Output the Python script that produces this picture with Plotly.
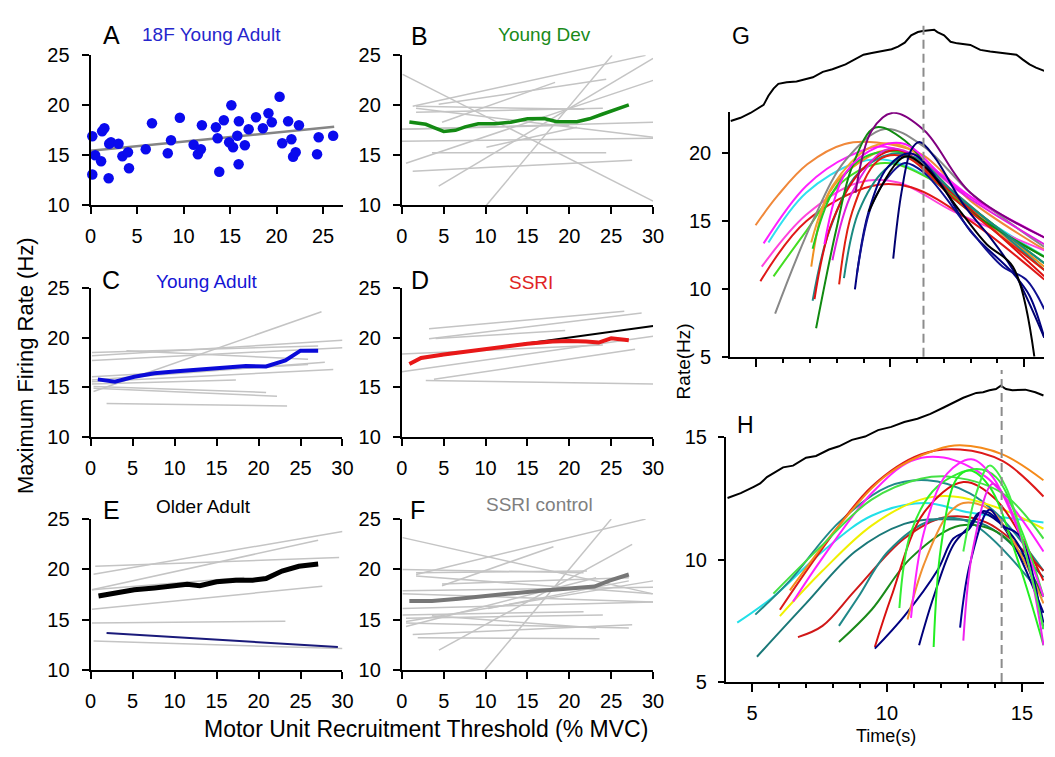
import plotly.graph_objects as go

FONT = "Liberation Sans, Arial, Helvetica, sans-serif"
W, HT = 1055, 757

# ---------------- Panel A: 18F Young Adult (scatter + fit) ----------------
a_thr = [0.18, 0.18, 0.49, 1.13, 1.24, 1.48, 1.94, 2.0, 2.19, 3.0, 3.42, 4.02, 4.13, 5.93, 6.6, 8.3,
         8.65, 9.6, 11.08, 11.54, 11.86, 11.97, 13.48, 13.66, 13.84, 14.33, 14.9, 15.14, 15.32, 15.78,
         15.92, 15.95, 16.59, 17.0, 17.79, 18.53, 19.13, 19.49, 20.33, 20.61, 21.25, 21.6, 21.78, 22.06,
         22.41, 24.36, 24.53, 26.09]
a_rate = [16.9, 13.08, 15.0, 14.4, 17.4, 17.7, 12.7, 16.15, 16.3, 16.15, 14.9, 15.3, 13.7, 15.6, 18.2, 15.2,
          16.5, 18.75, 16.05, 15.1, 15.6, 18.0, 17.8, 16.7, 13.35, 18.5, 16.3, 20.0, 15.8, 16.95,
          14.1, 18.4, 16.0, 17.6, 18.8, 17.7, 19.2, 18.3, 20.85, 16.2, 18.4, 16.6, 14.85, 15.3,
          18.0, 15.1, 16.8, 16.95]
a_fit_thr = [0.0, 26.2]
a_fit_rate = [15.45, 17.85]

# ---------------- Panel B: Young Dev ----------------
b_thr0 = [0.1, 10.1, 4.4, 0.5, 1.3, 3.6, 0.0, 0.0, 1.3, 1.7, 1.7, 4.8, 1.7, 4.4, 10.1, 0.0]
b_rate0 = [23.1, 10.0, 11.9, 14.2, 13.4, 15.25, 16.4, 17.6, 19.9, 19.9, 19.7, 18.3, 19.3, 20.1, 15.8, 17.6]
b_thr1 = [30.0, 25.1, 30.0, 30.0, 27.5, 24.4, 30.0, 30.0, 29.1, 21.8, 30.0, 18.3, 24.0, 24.4, 20.9, 20.0]
b_rate1 = [10.4, 25.0, 24.7, 22.5, 14.5, 15.25, 16.7, 18.3, 25.0, 19.6, 16.8, 22.3, 19.7, 22.6, 17.8, 18.0]
b_mean_thr = [0.9, 2.86, 3.84, 5.0, 6.4, 7.56, 9.13, 11.1, 13.0, 15.0, 17.0, 18.5, 20.9, 22.4, 24.0, 25.6, 27.1]
b_mean_rate = [18.33, 18.1, 17.77, 17.39, 17.5, 17.84, 18.16, 18.16, 18.3, 18.65, 18.68, 18.36, 18.36,
               18.65, 19.13, 19.62, 20.04]

# ---------------- Panel C: Young Adult ----------------
c_thr0 = [0.35, 0.16, 0.16, 4.26, 0.16, 0.16, 0.16, 0.16, 0.35, 0.35, 1.9, 0.16]
c_rate0 = [14.57, 18.19, 17.7, 18.68, 18.52, 15.56, 15.72, 15.33, 15.07, 14.9, 13.36, 16.05]
c_thr1 = [27.5, 30.0, 30.0, 25.9, 27.1, 28.9, 27.9, 17.3, 20.9, 22.2, 23.4, 25.9]
c_rate1 = [22.63, 19.74, 19.0, 17.83, 19.18, 16.78, 17.53, 15.72, 14.47, 14.08, 13.09, 17.3]
c_mean_thr = [0.86, 2.9, 5.2, 7.6, 10.3, 13.0, 16.2, 18.5, 20.9, 23.2, 25.0, 27.1]
c_mean_rate = [15.79, 15.56, 16.05, 16.4, 16.6, 16.8, 16.97, 17.14, 17.1, 17.7, 18.7, 18.7]

# ---------------- Panel D: SSRI ----------------
d_thr0 = [3.25, 3.25, 4.03, 0.0, 0.0, 3.84, 2.86]
d_rate0 = [20.91, 19.89, 19.92, 18.35, 16.55, 15.8, 15.67]
d_thr1 = [26.56, 28.63, 19.5, 24.0, 30.0, 27.85, 30.0]
d_rate1 = [22.68, 22.51, 20.74, 19.27, 20.15, 18.84, 15.31]
d_fit_thr = [2.27, 30.0]
d_fit_rate = [17.96, 21.2]
d_mean_thr = [0.9, 2.3, 5.0, 10.0, 15.0, 18.0, 20.0, 22.0, 23.5, 25.0, 26.0, 27.1]
d_mean_rate = [17.35, 17.95, 18.3, 18.86, 19.4, 19.62, 19.68, 19.62, 19.52, 19.95, 19.9, 19.75]

# ---------------- Panel E: Older Adult ----------------
e_thr0 = [0.35, 0.55, 0.16, 0.16, 0.16, 0.16, 0.35]
e_rate0 = [19.52, 20.32, 17.98, 18.0, 16.06, 14.7, 12.9]
e_thr1 = [30.0, 29.6, 27.1, 18.3, 27.6, 23.2, 30.0]
e_rate1 = [23.78, 21.19, 22.9, 19.2, 18.33, 14.87, 12.15]
e_navy_thr = [1.9, 29.45]
e_navy_rate = [13.69, 12.31]
e_mean_thr = [0.94, 2.9, 5.2, 7.6, 9.9, 11.5, 13.0, 15.0, 17.3, 19.3, 20.9, 22.8, 24.8, 27.1]
e_mean_rate = [17.37, 17.7, 17.98, 18.17, 18.33, 18.53, 18.4, 18.78, 18.94, 18.94, 19.1, 19.84, 20.32, 20.54]

# ---------------- Panel F: SSRI control ----------------
f_thr0 = [0.1, 9.9, 4.43, 4.8, 1.7, 0.1, 1.7, 1.7, 0.1, 0.5, 0.5, 0.1, 0.1, 1.3, 1.9, 0.5, 0.5, 3.6, 4.8, 0.1, 10.3]
f_rate0 = [23.16, 10.0, 12.0, 18.39, 19.5, 20.0, 19.68, 19.35, 17.58, 14.84, 14.35, 15.48, 16.13, 13.55, 13.23,
           15.16, 14.68, 15.42, 18.55, 17.9, 16.13]
f_thr1 = [30.0, 25.0, 27.5, 18.1, 29.1, 21.7, 22.1, 29.9, 30.0, 30.0, 23.2, 21.7, 30.0, 27.5, 23.6, 24.0, 27.1,
          23.2, 27.1, 30.0, 27.1]
f_rate1 = [17.58, 25.0, 22.5, 22.26, 25.0, 19.68, 19.84, 17.58, 16.77, 18.87, 19.19, 15.81, 16.77, 14.52, 13.13,
           15.48, 14.19, 14.19, 19.19, 18.23, 18.87]
f_mean_thr = [0.9, 3.6, 6.8, 9.9, 13.4, 16.6, 20.1, 23.0, 24.8, 27.1]
f_mean_rate = [16.87, 16.87, 17.1, 17.4, 17.65, 17.9, 18.1, 18.3, 18.9, 19.5]

# ---------------- Panel G: rate curves vs time + force ----------------
g_force_t = [4.04, 4.41, 4.78, 5.09, 5.27, 5.45, 5.64, 5.82, 6.13, 6.5, 6.86, 7.11, 7.48, 7.84, 8.33, 8.64,
             9.0, 9.31, 9.68, 10.05, 10.29, 10.54, 10.78, 11.03, 11.21, 11.4, 11.64, 11.76, 12.01, 12.25,
             12.5, 12.99, 13.36, 13.73, 14.22, 14.71, 14.95, 15.2, 15.44, 15.75]
g_force = [6.1, 9.1, 13.6, 18.2, 21.2, 29.7, 36.4, 40.9, 42.4, 43.0, 45.5, 47.0, 52.1, 54.5, 59.1, 63.6,
           68.2, 69.7, 71.2, 73.3, 75.8, 79.4, 86.4, 89.4, 90.3, 90.9, 91.5, 89.4, 86.4, 80.3,
           78.8, 77.3, 72.7, 71.2, 69.7, 68.2, 63.6, 59.1, 56.1, 53.0]
g_peak_t = 11.24
g_t = [
    [4.97, 5.8, 6.9, 8.3, 9.5, 11.2, 13.0, 15.75],
    [5.45, 6.86, 8.7, 9.93, 11.27, 13.2, 15.75],
    [5.27, 6.86, 8.46, 9.8, 11.5, 13.3, 15.75],
    [5.2, 6.86, 8.82, 10.3, 12.38, 15.75],
    [5.15, 6.86, 9.31, 10.78, 13.0, 15.75],
    [5.64, 6.86, 8.33, 9.8, 11.5, 13.5, 15.75],
    [5.7, 7.1, 8.33, 9.8, 11.27, 13.0, 15.75],
    [7.05, 7.72, 8.82, 10.05, 11.76, 13.5, 15.75],
    [7.05, 7.84, 9.31, 10.54, 12.38, 15.75],
    [7.1, 7.84, 9.07, 10.54, 12.0, 15.75],
    [7.1, 7.72, 8.82, 10.29, 11.76, 15.75],
    [7.17, 7.84, 9.07, 10.29, 12.0, 15.75],
    [7.23, 7.97, 8.58, 9.44, 10.54, 12.38, 15.75],
    [7.54, 8.33, 9.56, 10.54, 12.38, 15.75],
    [7.84, 8.58, 9.8, 10.78, 12.62, 15.75],
    [8.09, 8.58, 9.56, 10.54, 12.38, 15.75],
    [8.27, 8.82, 9.8, 10.78, 12.62, 15.75],
    [8.7, 9.31, 10.1, 11.27, 12.99, 15.75],
    [8.68, 9.19, 9.93, 10.78, 11.76, 12.99, 14.58, 15.2, 15.75],
    [8.76, 9.31, 10.05, 10.54, 11.27, 13.0, 14.2, 15.07, 15.75],
    [10.11, 10.42, 10.78, 11.09, 11.64, 12.75, 13.73, 14.58, 15.75],
    [9.19, 10.54, 11.27, 12.62, 13.6, 14.58, 15.38],
]
g_r = [
    [14.7, 16.9, 19.2, 20.7, 20.8, 19.9, 16.5, 12.9],
    [13.43, 17.1, 19.3, 19.5, 18.4, 15.6, 12.4],
    [13.36, 17.6, 19.8, 20.5, 19.0, 16.4, 13.8],
    [11.64, 15.47, 17.86, 17.86, 15.7, 12.84],
    [10.57, 15.0, 17.6, 17.5, 15.0, 10.7],
    [10.93, 14.27, 18.1, 19.3, 18.1, 15.0, 12.4],
    [8.18, 15.0, 19.5, 21.8, 20.48, 17.1, 13.1],
    [11.64, 17.1, 19.3, 20.25, 18.1, 15.3, 11.64],
    [13.43, 17.6, 20.5, 20.5, 17.1, 11.4],
    [12.96, 17.1, 19.77, 20.0, 17.6, 11.9],
    [9.13, 14.27, 18.57, 20.0, 18.1, 11.4],
    [9.25, 15.0, 19.05, 20.25, 17.6, 10.93],
    [7.1, 14.27, 19.05, 21.92, 20.96, 16.66, 12.36],
    [13.3, 18.57, 20.5, 20.7, 17.6, 13.8],
    [12.12, 17.14, 20.25, 20.0, 17.14, 13.3],
    [10.33, 15.7, 19.5, 19.77, 16.66, 11.4],
    [10.8, 15.7, 18.8, 19.77, 16.66, 11.9],
    [17.1, 21.7, 23.0, 21.7, 17.1, 13.8],
    [9.97, 15.7, 19.05, 20.0, 18.1, 14.27, 11.16, 9.5, 6.4],
    [11.16, 16.2, 18.57, 19.3, 18.57, 14.3, 11.64, 10.7, 8.5],
    [12.24, 17.14, 20.25, 20.84, 19.77, 16.18, 13.8, 11.4, 6.4],
    [15.7, 19.77, 19.05, 15.7, 13.3, 11.64, 5.0],
]
g_colors = ["#f0883a", "#30e0f0", "#ff22ff", "#ff44dd", "#e01818", "#44dd22", "#888888", "#f09020",
            "#f0a030", "#22cc22", "#208888", "#dd1010", "#108a10", "#ff10ff", "#e020e0", "#e02010",
            "#1a8a80", "#800080", "#000080", "#101090", "#000070", "#000000"]

# ---------------- Panel H ----------------
h_force_t = [4.09, 4.58, 5.06, 5.3, 5.55, 5.79, 6.15, 6.52, 7.0, 7.37, 7.85, 8.22, 8.7, 9.19, 9.67, 10.16,
             10.64, 11.13, 11.61, 12.1, 12.46, 12.83, 13.31, 13.56, 13.8, 14.04, 14.22, 14.41, 14.65,
             15.13, 15.5, 15.8]
h_force = [6.2, 9.9, 14.8, 17.3, 22.2, 25.2, 29.6, 30.9, 37.0, 38.3, 43.2, 45.7, 50.6, 53.1, 58.0, 60.5,
           64.2, 66.7, 70.4, 75.3, 79.0, 82.7, 86.4, 86.9, 88.4, 89.4, 91.9, 89.4, 88.4,
           88.9, 86.9, 84.4]
h_peak_t = 14.25
h_t = [
    [4.45, 5.79, 7.61, 9.43, 11.37, 13.07, 15.8],
    [5.12, 6.4, 8.22, 10.04, 11.5, 13.07, 14.28, 15.8],
    [5.18, 7.0, 8.82, 10.64, 11.86, 13.68, 15.8],
    [6.03, 7.61, 9.43, 11.25, 12.71, 14.28, 15.8],
    [6.03, 7.61, 9.43, 11.25, 12.46, 14.28, 15.8],
    [6.52, 7.61, 9.43, 10.89, 12.1, 13.68, 14.9, 15.8],
    [6.4, 8.22, 10.04, 11.86, 12.71, 14.28, 15.8],
    [5.79, 7.61, 9.43, 11.25, 12.46, 14.28, 15.8],
    [6.7, 7.61, 8.82, 10.64, 12.1, 13.68, 15.8],
    [8.22, 8.94, 10.04, 11.61, 13.07, 15.8],
    [8.22, 9.43, 10.89, 12.71, 14.28, 15.8],
    [9.55, 10.16, 11.37, 12.83, 14.04, 15.8],
    [9.55, 10.64, 11.86, 12.46, 13.0, 13.56, 14.28, 15.8],
    [10.46, 10.89, 11.86, 13.31, 14.04, 15.01, 15.8],
    [10.76, 11.37, 12.22, 12.83, 13.8, 14.9, 15.8],
    [10.89, 11.37, 12.22, 13.13, 13.92, 14.9, 15.8],
    [11.19, 11.73, 12.46, 13.07, 13.43, 14.16, 15.01, 15.8],
    [11.73, 12.0, 12.58, 13.07, 13.8, 14.9, 15.8],
    [12.71, 13.07, 13.8, 14.28, 14.9, 15.8],
    [12.83, 13.19, 13.92, 14.53, 15.25, 15.8],
    [12.83, 13.31, 13.8, 14.4, 15.25, 15.8],
]
h_r = [
    [7.42, 8.48, 10.33, 11.79, 12.31, 11.92, 11.52],
    [7.75, 9.14, 11.52, 12.98, 13.24, 12.71, 11.65, 9.54],
    [6.03, 8.21, 10.33, 11.46, 11.65, 11.39, 9.27],
    [7.95, 10.46, 12.98, 14.3, 14.5, 14.03, 12.58],
    [7.69, 9.54, 11.39, 12.45, 12.58, 12.05, 11.26],
    [8.28, 10.07, 12.71, 14.03, 14.17, 13.37, 11.79, 10.33],
    [8.74, 11.39, 13.5, 14.5, 14.67, 14.3, 13.24],
    [8.61, 10.6, 12.45, 13.3, 13.37, 12.71, 10.86],
    [6.83, 7.29, 8.74, 10.86, 11.72, 11.52, 9.54],
    [7.29, 8.48, 10.33, 11.59, 11.52, 8.48],
    [6.63, 7.95, 10.07, 11.39, 10.99, 8.48],
    [6.43, 8.48, 11.92, 13.17, 12.45, 9.14],
    [6.36, 7.69, 9.54, 10.86, 11.2, 11.98, 11.39, 7.82],
    [8.02, 11.12, 12.98, 13.7, 13.37, 11.12, 8.48],
    [7.55, 9.8, 11.79, 12.31, 12.05, 10.33, 8.21],
    [7.62, 11.12, 13.5, 14.1, 13.37, 11.12, 8.48],
    [6.5, 8.48, 10.6, 11.39, 11.92, 11.52, 10.33, 7.42],
    [6.43, 10.5, 13.3, 13.64, 12.98, 9.8, 6.5],
    [7.22, 9.8, 12.05, 11.39, 10.99, 7.16],
    [6.69, 10.46, 13.1, 12.18, 9.8, 6.5],
    [10.33, 12.71, 13.84, 12.98, 9.8, 7.16],
]
h_colors = ["#22e0e8", "#208a8a", "#1a7878", "#dd1a1a", "#f0f000", "#ff20ff", "#f58a1a", "#44e044",
            "#d01818", "#208888", "#1a8a1a", "#d81010", "#000080", "#33ee33", "#f09030", "#ff22ff",
            "#00007a", "#22ee22", "#000090", "#ee22ee", "#44ee44"]

# ---------------- helpers ----------------
def fx(p):
    return p / W


def fy(p):
    return 1 - p / HT


def segs(x0, y0, x1, y1):
    xs, ys = [], []
    for a, b, c, d in zip(x0, y0, x1, y1):
        xs += [a, c, None]
        ys += [b, d, None]
    return xs, ys


GRAY = "#c4c4c4"
fig = go.Figure()

# A
fig.add_trace(go.Scatter(x=a_fit_thr, y=a_fit_rate, mode="lines", line=dict(color="#858585", width=2.5),
                         xaxis="x", yaxis="y"))
fig.add_trace(go.Scatter(x=a_thr, y=a_rate, mode="markers", cliponaxis=False,
                         marker=dict(color="#0a0aee", size=10.5, line=dict(width=0)), xaxis="x", yaxis="y"))

panels = [
    ("2", b_thr0, b_rate0, b_thr1, b_rate1, b_mean_thr, b_mean_rate, "#138a13", 3.5),
    ("3", c_thr0, c_rate0, c_thr1, c_rate1, c_mean_thr, c_mean_rate, "#0a0ad8", 4),
    ("4", d_thr0, d_rate0, d_thr1, d_rate1, d_mean_thr, d_mean_rate, "#e81818", 4),
    ("5", e_thr0, e_rate0, e_thr1, e_rate1, e_mean_thr, e_mean_rate, "#000000", 5),
    ("6", f_thr0, f_rate0, f_thr1, f_rate1, f_mean_thr, f_mean_rate, "#777777", 4),
]
for k, t0, r0, t1, r1, mt, mr, col, wd in panels:
    xs, ys = segs(t0, r0, t1, r1)
    fig.add_trace(go.Scatter(x=xs, y=ys, mode="lines", line=dict(color=GRAY, width=1.5),
                             xaxis="x" + k, yaxis="y" + k, connectgaps=False))
    if k == "4":
        fig.add_trace(go.Scatter(x=d_fit_thr, y=d_fit_rate, mode="lines", line=dict(color="black", width=2),
                                 xaxis="x4", yaxis="y4"))
    if k == "5":
        fig.add_trace(go.Scatter(x=e_navy_thr, y=e_navy_rate, mode="lines", line=dict(color="#1a1a7a", width=2),
                                 xaxis="x5", yaxis="y5"))
    fig.add_trace(go.Scatter(x=mt, y=mr, mode="lines", line=dict(color=col, width=wd),
                             xaxis="x" + k, yaxis="y" + k))

# G
for t, r, c in zip(g_t, g_r, g_colors):
    fig.add_trace(go.Scatter(x=t, y=r, mode="lines", line=dict(color=c, width=2, shape="spline", smoothing=1.0),
                             xaxis="x7", yaxis="y7"))
fig.add_trace(go.Scatter(x=g_force_t, y=g_force, mode="lines", line=dict(color="black", width=2),
                         xaxis="x7", yaxis="y9"))
# H
for t, r, c in zip(h_t, h_r, h_colors):
    fig.add_trace(go.Scatter(x=t, y=r, mode="lines", line=dict(color=c, width=2, shape="spline", smoothing=1.0),
                             xaxis="x8", yaxis="y8"))
fig.add_trace(go.Scatter(x=h_force_t, y=h_force, mode="lines", line=dict(color="black", width=2),
                         xaxis="x8", yaxis="y10"))

# ---------------- axes ----------------
TF = dict(family=FONT, size=20, color="black")
base = dict(showline=True, linecolor="black", linewidth=2, ticks="outside", tickcolor="black", tickwidth=2,
            ticklen=7, showgrid=False, zeroline=False, tickfont=TF, fixedrange=True)

row_y = {"top": (45.7, 200), "mid": (285.7, 438.3), "bot": (523.3, 679)}
left_x, right_x = (86, 342), (402.3, 657.7)
layout_axes = {}
pan_geo = [("", left_x, "top", 27.2, list(range(0, 26, 5))),
           ("2", right_x, "top", 30, list(range(0, 31, 5))),
           ("3", left_x, "mid", 30, list(range(0, 31, 5))),
           ("4", right_x, "mid", 30, list(range(0, 31, 5))),
           ("5", left_x, "bot", 30, list(range(0, 31, 5))),
           ("6", right_x, "bot", 30, list(range(0, 31, 5)))]
for k, xd, row, xmax, xt in pan_geo:
    yd = row_y[row]
    xa = dict(base, domain=[fx(xd[0]), fx(343 if k == "" else xd[1])], range=[0, xmax], tickvals=xt,
              anchor="y" + k, ticklabelstandoff=5)
    ya = dict(base, domain=[fy(yd[1]), fy(yd[0])], range=[10, 25], tickvals=[10, 15, 20, 25],
              anchor="x" + k, ticklabelstandoff=8)
    layout_axes["xaxis" + k] = xa
    layout_axes["yaxis" + k] = ya

minor = dict(ticks="outside", ticklen=4, tickwidth=1.5, tickcolor="black", tickvals=list(range(4, 17)))
g_ydom = [fy(356), fy(104.3)]
g_fdom = [fy(120), fy(10)]
h_ydom = [fy(691), fy(439)]
h_fdom = [fy(510), fy(375)]
layout_axes["xaxis7"] = dict(base, domain=[fx(736), 1.0], range=[4.02, 15.74], tickvals=[5, 10, 15],
                             ticklen=8, showticklabels=False, minor=minor, anchor="y7")
layout_axes["yaxis7"] = dict(base, domain=g_ydom, range=[5, 23.04], tickvals=[5, 10, 15, 20], ticklen=6,
                             anchor="x7", ticklabelstandoff=7)
layout_axes["yaxis9"] = dict(domain=g_fdom, range=[0, 100], visible=False, anchor="x7", fixedrange=True)
layout_axes["xaxis8"] = dict(base, domain=[fx(731.7), 1.0], range=[4.03, 15.82], tickvals=[5, 10, 15],
                             ticklen=8, minor=minor, anchor="y8", ticklabelstandoff=4)
layout_axes["yaxis8"] = dict(base, domain=h_ydom, range=[5, 15], tickvals=[5, 10, 15], ticklen=6,
                             anchor="x8", ticklabelstandoff=7)
layout_axes["yaxis10"] = dict(domain=h_fdom, range=[0, 100], visible=False, anchor="x8", fixedrange=True)


def force_top(dom, fmax, over):
    return dom[0] + (fmax + over) / 100.0 * (dom[1] - dom[0])


shapes = [
    dict(type="line", xref="x7", yref="paper", x0=g_peak_t, x1=g_peak_t, y0=g_ydom[0],
         y1=force_top(g_fdom, max(g_force), 5), line=dict(color="#8c8c8c", width=2, dash="9px,5px")),
    dict(type="line", xref="x8", yref="paper", x0=h_peak_t, x1=h_peak_t, y0=h_ydom[0],
         y1=force_top(h_fdom, max(h_force), 12), line=dict(color="#8c8c8c", width=2, dash="9px,5px")),
]


def ann(text, cx, cy, size, color="black", angle=0):
    return dict(text=text, x=fx(cx), y=fy(cy), xref="paper", yref="paper", showarrow=False,
                xanchor="center", yanchor="middle", textangle=angle,
                font=dict(family=FONT, size=size, color=color))


annotations = [
    ann("A", 107, 25, 25), ann("18F Young Adult", 209, 24, 19, "#2626cc"),
    ann("B", 420, 26, 25), ann("Young Dev", 547, 24, 19, "#1a8a1a"),
    ann("C", 107, 277, 25), ann("Young Adult", 204, 279, 19, "#1414d4"),
    ann("D", 421, 277, 25), ann("SSRI", 534, 280, 19, "#e02424"),
    ann("E", 107, 514, 25), ann("Older Adult", 201, 510, 19, "black"),
    ann("F", 418, 514, 25), ann("SSRI control", 542, 508, 19, "#808080"),
    ann("G", 747, 26, 23), ann("H", 752, 426, 23),
    ann("Maximum Firing Rate (Hz)", 20, 365, 22, angle=-90),
    ann("Motor Unit Recruitment Threshold (% MVC)", 427, 740, 23),
    ann("Rate(Hz)", 689, 361, 19, angle=-90),
    ann("Time(s)", 894, 747, 18),
]

fig.update_layout(width=W, height=HT, margin=dict(l=0, r=0, t=0, b=0), paper_bgcolor="white",
                  plot_bgcolor="rgba(0,0,0,0)", showlegend=False, shapes=shapes, annotations=annotations,
                  font=dict(family=FONT), **layout_axes)
fig.write_html("out.html")
